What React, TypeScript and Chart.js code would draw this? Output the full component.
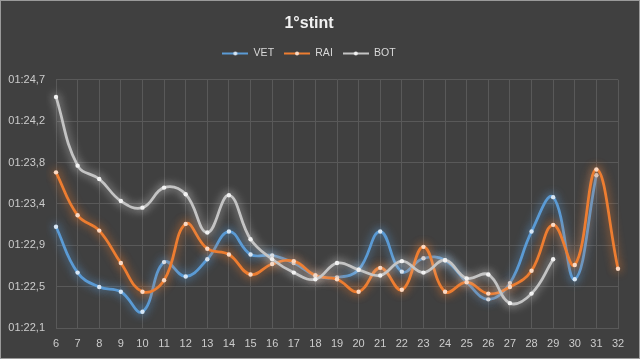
import React, { useEffect, useRef } from 'react';
import { Chart, registerables } from 'chart.js';

Chart.register(...registerables);

const laps = ['6','7','8','9','10','11','12','13','14','15','16','17','18','19','20','21','22','23','24','25','26','27','28','29','30','31','32'];

const vet = [83.16, 82.68, 82.53, 82.48, 82.27, 82.79, 82.64, 82.82, 83.11, 82.87, 82.86, 82.78, 82.65, 82.63, 82.71, 83.11, 82.69, 82.83, 82.81, 82.58, 82.40, 82.57, 83.11, 83.47, 82.61, 83.70, null];
const rai = [83.73, 83.28, 83.12, 82.78, 82.48, 82.60, 83.19, 82.93, 82.87, 82.66, 82.77, 82.80, 82.65, 82.61, 82.48, 82.73, 82.50, 82.95, 82.48, 82.58, 82.46, 82.53, 82.70, 83.18, 82.76, 83.76, 82.72];
const bot = [84.52, 83.80, 83.66, 83.43, 83.36, 83.57, 83.50, 83.10, 83.49, 83.03, 82.82, 82.68, 82.61, 82.78, 82.71, 82.65, 82.80, 82.68, 82.81, 82.62, 82.66, 82.36, 82.46, 82.82, null, null, null];

const yTickValues = [82.1, 82.5333, 82.9667, 83.4, 83.8333, 84.2667, 84.7];
const yTickLabels = ['01:22,1', '01:22,5', '01:22,9', '01:23,4', '01:23,8', '01:24,2', '01:24,7'];

const seriesNames = ['VET', 'RAI', 'BOT'];
const lineColors = ['#5b9bd5', '#ed7d31', '#c4c4c4'];
const pointColors = ['#d6e6f5', '#fbd9c3', '#f2f2f2'];
const glowColors = ['rgba(91,155,213,0.95)', 'rgba(237,125,49,0.95)', 'rgba(225,225,225,0.85)'];

function makeLegendIcon(line: string, dot: string) {
  const c = document.createElement('canvas');
  c.width = 26;
  c.height = 7;
  const ctx = c.getContext('2d')!;
  ctx.strokeStyle = line;
  ctx.lineWidth = 2;
  ctx.beginPath();
  ctx.moveTo(0, 3.5);
  ctx.lineTo(26, 3.5);
  ctx.stroke();
  ctx.fillStyle = dot;
  ctx.beginPath();
  ctx.arc(13, 3.5, 2, 0, Math.PI * 2);
  ctx.fill();
  return c;
}

const FONT = '"Liberation Sans", Arial, sans-serif';

export default function App() {
  const ref = useRef<HTMLCanvasElement | null>(null);

  useEffect(() => {
    document.body.style.margin = '0';
    const canvas = ref.current!;
    const icons = lineColors.map((c, i) => makeLegendIcon(c, pointColors[i]));

    const bgPlugin = {
      id: 'bg',
      beforeDraw(chart: any) {
        const ctx = chart.ctx;
        ctx.save();
        ctx.fillStyle = '#404040';
        ctx.fillRect(0, 0, chart.width, chart.height);
        ctx.strokeStyle = '#9a9a9a';
        ctx.lineWidth = 1;
        ctx.strokeRect(0.5, 0.5, chart.width - 1, chart.height - 1);
        ctx.restore();
      },
    };

    const glowPlugin = {
      id: 'glow',
      beforeDatasetDraw(chart: any, args: any) {
        const ctx = chart.ctx;
        ctx.save();
        ctx.shadowColor = glowColors[args.index];
        ctx.shadowBlur = 10;
      },
      afterDatasetDraw(chart: any) {
        chart.ctx.restore();
      },
    };

    const datasets = [vet, rai, bot].map((d, i) => ({
      label: seriesNames[i],
      data: d,
      borderColor: lineColors[i],
      backgroundColor: pointColors[i],
      borderWidth: 2.75,
      pointRadius: 2.2,
      pointBackgroundColor: pointColors[i],
      pointBorderColor: pointColors[i],
      pointBorderWidth: 0,
      tension: 0.42,
      spanGaps: false,
      order: 2 - i,
      clip: 10,
    }));

    const chart = new Chart(canvas, {
      type: 'line',
      data: { labels: laps, datasets },
      plugins: [bgPlugin, glowPlugin],
      options: {
        animation: false,
        responsive: false,
        devicePixelRatio: 1,
        layout: { padding: { left: 0, right: 22, top: 0, bottom: 0 } },
        plugins: {
          title: {
            display: true,
            text: '1°stint',
            color: '#f2f2f2',
            font: { family: FONT, size: 16, weight: 'bold' },
            padding: { top: 14, bottom: 5 },
          },
          subtitle: {
            display: true,
            text: '',
            weight: 500,
            font: { family: FONT, size: 11, lineHeight: 1 },
            padding: { top: 0, bottom: 0 },
          } as any,
          legend: {
            display: true,
            position: 'top',
            labels: {
              color: '#d9d9d9',
              font: { family: FONT, size: 10.5 },
              padding: 10,
              usePointStyle: true,
              pointStyleWidth: 26,
              generateLabels: (ch: any) =>
                ch.data.datasets.map((ds: any, i: number) => ({
                  text: ds.label,
                  pointStyle: icons[i],
                  fillStyle: lineColors[i],
                  strokeStyle: lineColors[i],
                  lineWidth: 0,
                  hidden: false,
                  datasetIndex: i,
                  fontColor: '#d9d9d9',
                })),
            },
          },
          tooltip: { enabled: false },
        },
        scales: {
          x: {
            type: 'category',
            offset: false,
            grid: { color: '#595959', drawTicks: false, lineWidth: 1 },
            border: { display: true, color: '#595959' },
            ticks: {
              color: '#cccccc',
              font: { family: FONT, size: 11 },
              padding: 9,
              maxRotation: 0,
              autoSkip: false,
            },
            afterFit(scale: any) {
              scale.height = 31;
            },
          },
          y: {
            type: 'linear',
            min: 82.1,
            max: 84.7,
            grid: { color: '#595959', drawTicks: false, lineWidth: 1 },
            border: { display: true, color: '#595959' },
            afterBuildTicks(scale: any) {
              scale.ticks = yTickValues.map((value) => ({ value }));
            },
            ticks: {
              color: '#cccccc',
              font: { family: FONT, size: 11 },
              padding: 11,
              callback: (_v: any, i: number) => yTickLabels[i],
            },
            afterFit(scale: any) {
              scale.width = 56;
            },
          },
        },
      } as any,
    });

    return () => chart.destroy();
  }, []);

  return (
    <div style={{ position: 'absolute', left: 0, top: 0, width: 640, height: 359 }}>
      <canvas ref={ref} width={640} height={359} style={{ width: 640, height: 359, display: 'block' }} />
    </div>
  );
}
